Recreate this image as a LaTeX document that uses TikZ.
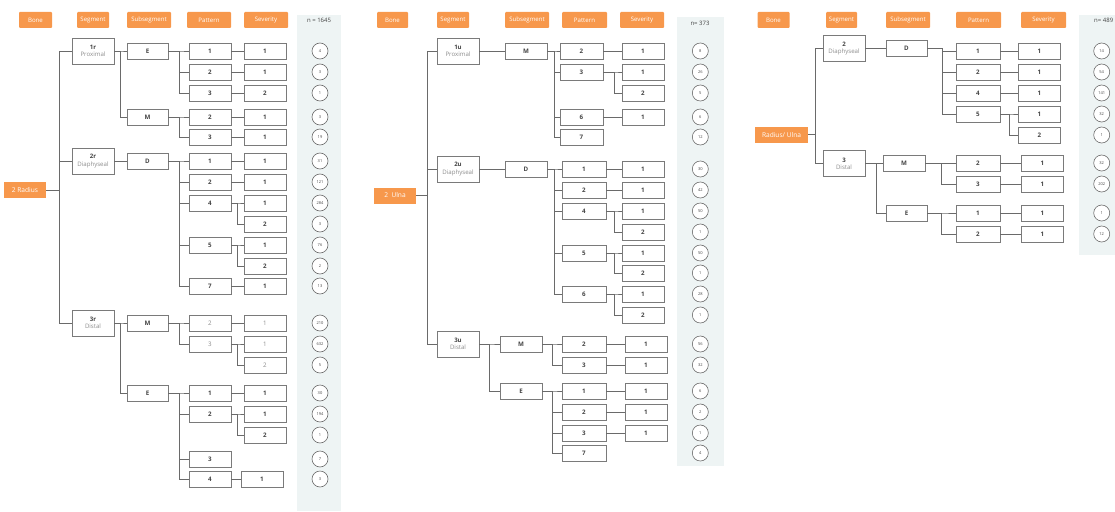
\documentclass[tikz,border=0pt]{standalone}
\usepackage{fontspec}
\setmainfont{Open Sans}
\definecolor{org}{HTML}{F7984C}
\definecolor{pan}{HTML}{EEF4F4}
\definecolor{brd}{HTML}{7A7A7A}
\definecolor{lin}{HTML}{6A6A6A}
\definecolor{txt}{HTML}{444444}
\definecolor{lt}{HTML}{8C8C8C}
\begin{document}
\begin{tikzpicture}[x=1pt,y=-1pt,
  hdr/.style={fill=org,text=white,minimum height=16pt,inner sep=0pt,font=\fontsize{6.1}{6.5}\selectfont,rounded corners=1pt},
  bonebox/.style={fill=org,text=white,minimum height=16pt,inner sep=0pt,font=\fontsize{6.6}{7}\selectfont},
  segbox/.style={draw=brd,fill=white,line width=0.6pt,minimum width=42pt,minimum height=26pt,inner sep=0pt,align=center,font=\fontsize{6.1}{7.6}\selectfont,text=txt},
  pbox/.style={draw=brd,fill=white,line width=0.6pt,minimum width=42pt,minimum height=16pt,inner sep=0pt,font=\fontsize{6.2}{6.2}\selectfont\bfseries,text=txt},
  lbox/.style={pbox,font=\fontsize{6.2}{6.2}\selectfont,text=lt},
  cnt/.style={circle,draw=lin,fill=white,line width=0.6pt,minimum size=16pt,inner sep=0pt,font=\fontsize{4}{4}\selectfont,text=txt},
  con/.style={draw=lin,line width=0.6pt},
  ntxt/.style={font=\fontsize{6}{6}\selectfont,text=txt,inner sep=0pt}
]
\useasboundingbox (0,0) rectangle (1115,511);
% ---------------- panels
\fill[pan] (297,15) rectangle (341,511);
\fill[pan] (677,17) rectangle (724,466);
\fill[pan] (1079,15) rectangle (1125,255);
\node[ntxt] (an) at (319,20) {n = 1645};
\node[ntxt] (bn) at (700,23) {n= 373};
\node[ntxt,anchor=west] (cn) at (1094,20) {n= 489};

% ================= LEFT: Radius
\node[hdr,minimum width=33pt] (aH1) at (35.5,20) {Bone};
\node[hdr,minimum width=32pt] (aH2) at (93,20) {Segment};
\node[hdr,minimum width=44pt] (aH3) at (149,20) {Subsegment};
\node[hdr,minimum width=44pt] (aH4) at (209,20) {Pattern};
\node[hdr,minimum width=44pt] (aH5) at (266,20) {Severity};

\node[bonebox,minimum width=42pt] (aB) at (25,190) {2 Radius};
\node[segbox] (aS1) at (93,51) {\textbf{1r}\\{\color{lt}Proximal}};
\node[segbox] (aS2) at (93,161) {\textbf{2r}\\{\color{lt}Diaphyseal}};
\node[segbox] (aS3) at (93,323) {\textbf{3r}\\{\color{lt}Distal}};
\node[pbox,minimum width=41pt] (aE1) at (147.5,51) {E};
\node[pbox,minimum width=41pt] (aM1) at (147.5,117) {M};
\node[pbox,minimum width=41pt] (aD2) at (147.5,161) {D};
\node[pbox,minimum width=41pt] (aM3) at (147.5,323) {M};
\node[pbox,minimum width=41pt] (aE3) at (147.5,393) {E};

\foreach \i/\y/\t in {1/51/1,2/72/2,3/93/3,4/117/2,5/137/3,6/161/1,7/182/2,8/203/4,10/245/5,12/286/7,16/393/1,17/414/2,19/459/3,20/479/4}
  \node[pbox] (ap\i) at (210,\y) {\t};
\foreach \i/\y/\t in {13/323/2,14/344/3}
  \node[lbox] (ap\i) at (210,\y) {\t};
\foreach \i/\y/\t in {1/51/1,2/72/1,3/93/2,4/117/1,5/137/1,6/161/1,7/182/1,8/203/1,9/224/2,10/245/1,11/266/2,12/286/1,16/393/1,17/414/1,18/435/2}
  \node[pbox] (as\i) at (265,\y) {\t};
\foreach \i/\y/\t in {13/323/1,14/344/1,15/365/2}
  \node[lbox] (as\i) at (265,\y) {\t};
\node[pbox] (as20) at (262,479) {1};
\foreach \y/\n [count=\i] in {51/4,72/3,93/1,117/3,137/19,161/31,182/121,203/284,224/3,245/76,266/2,286/13,323/210,344/632,365/5,393/30,414/194,435/1,459/7,479/3}
  \node[cnt] (ac\i) at (320,\y) {\n};

\foreach \s in {aS1,aS2,aS3} \draw[con] (aB.east) -- ++(13,0) |- (\s.west);
\foreach \s in {aE1,aM1} \draw[con] (aS1.east) -- ++(6,0) |- (\s.west);
\draw[con] (aS2.east) -- (aD2.west);
\foreach \s in {aM3,aE3} \draw[con] (aS3.east) -- ++(6,0) |- (\s.west);
\foreach \i in {1,2,3} \draw[con] (aE1.east) -- ++(11,0) |- (ap\i.west);
\foreach \i in {4,5} \draw[con] (aM1.east) -- ++(11,0) |- (ap\i.west);
\foreach \i in {6,7,8,10,12} \draw[con] (aD2.east) -- ++(11,0) |- (ap\i.west);
\foreach \i in {13,14} \draw[con] (aM3.east) -- ++(11,0) |- (ap\i.west);
\foreach \i in {16,17,19,20} \draw[con] (aE3.east) -- ++(11,0) |- (ap\i.west);
\foreach \i in {1,2,3,4,5,6,7,12,13,16,20} \draw[con] (ap\i.east) -- (as\i.west);
\foreach \p/\s in {8/8,8/9,10/10,10/11,14/14,14/15,17/17,17/18} \draw[con] (ap\p.east) -- ++(6,0) |- (as\s.west);

% ================= MIDDLE: Ulna
\node[hdr,minimum width=31pt] (bH1) at (392.5,20) {Bone};
\node[hdr,minimum width=32pt] (bH2) at (453,20) {Segment};
\node[hdr,minimum width=44pt] (bH3) at (527,20) {Subsegment};
\node[hdr,minimum width=45pt] (bH4) at (584.5,20) {Pattern};
\node[hdr,minimum width=44pt] (bH5) at (642,20) {Severity};

\node[bonebox,minimum width=42pt] (bB) at (395,195.5) {2\ \ Ulna};
\node[segbox] (bS1) at (458,51) {\textbf{1u}\\{\color{lt}Proximal}};
\node[segbox] (bS2) at (458,169) {\textbf{2u}\\{\color{lt}Diaphyseal}};
\node[segbox] (bS3) at (458,344) {\textbf{3u}\\{\color{lt}Distal}};
\node[pbox] (bM1) at (526,51) {M};
\node[pbox] (bD2) at (526,169) {D};
\node[pbox] (bM3) at (521,344) {M};
\node[pbox] (bE3) at (521,391) {E};

\foreach \i/\y/\t in {1/51/2,2/72/3,4/117/6,5/137/7}
  \node[pbox,minimum width=43pt] (bp\i) at (581.5,\y) {\t};
\foreach \i/\y/\t in {6/169/1,7/190/2,8/211/4,10/253/5,12/294/6,14/344/2,15/365/3,16/391/1,17/412/2,18/433/3,19/453/7}
  \node[pbox,minimum width=44pt] (bp\i) at (584,\y) {\t};
\foreach \i/\y/\t in {1/51/1,2/72/1,3/93/2,4/117/1,6/169/1,7/190/1,8/211/1,9/232/2,10/253/1,11/273/2,12/294/1,13/315/2}
  \node[pbox] (bs\i) at (643,\y) {\t};
\foreach \i/\y/\t in {14/344/1,15/365/1,16/391/1,17/412/1,18/433/1}
  \node[pbox] (bs\i) at (646,\y) {\t};
\foreach \y/\n [count=\i] in {51/8,72/26,93/5,117/6,137/12,169/30,190/42,211/50,232/1,253/50,273/1,294/28,315/1,344/56,365/32,391/6,412/2,433/1,453/4}
  \node[cnt] (bc\i) at (700.3,\y) {\n};

\foreach \s in {bS1,bS2,bS3} \draw[con] (bB.east) -- ++(10.7,0) |- (\s.west);
\draw[con] (bS1.east) -- (bM1.west);
\draw[con] (bS2.east) -- (bD2.west);
\foreach \s in {bM3,bE3} \draw[con] (bS3.east) -- ++(10.3,0) |- (\s.west);
\foreach \i in {1,2,4,5} \draw[con] (bM1.east) -- ++(6.7,0) |- (bp\i.west);
\foreach \i in {6,7,8,10,12} \draw[con] (bD2.east) -- ++(6.7,0) |- (bp\i.west);
\foreach \i in {14,15} \draw[con] (bM3.east) -- ++(10.3,0) |- (bp\i.west);
\foreach \i in {16,17,18,19} \draw[con] (bE3.east) -- ++(10.3,0) |- (bp\i.west);
\foreach \i in {1,4,6,7,14,15,16,17,18} \draw[con] (bp\i.east) -- (bs\i.west);
\foreach \s in {2,3} \draw[con] (bp2.east) -- ++(11.3,0) |- (bs\s.west);
\foreach \p/\s in {8/8,8/9,10/10,10/11,12/12,12/13} \draw[con] (bp\p.east) -- ++(8.3,0) |- (bs\s.west);

% ================= RIGHT: Radius/Ulna
\node[hdr,minimum width=32pt] (cH1) at (773.5,20) {Bone};
\node[hdr,minimum width=31pt] (cH2) at (841.5,20) {Segment};
\node[hdr,minimum width=44pt] (cH3) at (908,20) {Subsegment};
\node[hdr,minimum width=45pt] (cH4) at (978.5,20) {Pattern};
\node[hdr,minimum width=45pt] (cH5) at (1043.5,20) {Severity};

\node[bonebox,minimum width=53pt] (cB) at (781.5,134.7) {Radius/ Ulna};
\node[segbox] (cS1) at (844,48.5) {\textbf{2}\\{\color{lt}Diaphyseal}};
\node[segbox] (cS2) at (844,163.7) {\textbf{3}\\{\color{lt}Distal}};
\node[pbox,minimum width=41pt] (cD1) at (906.5,48.5) {D};
\node[pbox] (cM2) at (904,163.5) {M};
\node[pbox,minimum width=41pt] (cE2) at (906.5,213) {E};

\foreach \i/\y/\t in {1/51/1,2/72/2,3/93/4,4/114/5,6/163/2,7/184/3,8/213/1,9/234/2}
  \node[pbox,minimum width=44pt] (cp\i) at (978,\y) {\t};
\foreach \i/\y/\t in {1/51/1,2/72/1,3/93/1,4/114/1,5/135/2}
  \node[pbox] (cs\i) at (1039.5,\y) {\t};
\foreach \i/\y/\t in {6/163/1,7/184/1,8/213/1,9/234/1}
  \node[pbox] (cs\i) at (1042.5,\y) {\t};
\foreach \y/\n [count=\i] in {51/14,72/54,93/141,114/32,135/1,163/32,184/202,213/1,234/12}
  \node[cnt] (cc\i) at (1101.7,\y) {\n};

\foreach \s in {cS1,cS2} \draw[con] (cB.east) -- ++(7.5,0) |- (\s.west);
\draw[con] (cS1.east) -- (cD1.west);
\foreach \s in {cM2,cE2} \draw[con] (cS2.east) -- ++(11,0) |- (\s.west);
\foreach \i in {1,2,3,4} \draw[con] (cD1.east) -- ++(14.7,0) |- (cp\i.west);
\foreach \i in {6,7} \draw[con] (cM2.east) -- ++(16,0) |- (cp\i.west);
\foreach \i in {8,9} \draw[con] (cE2.east) -- ++(14,0) |- (cp\i.west);
\foreach \i in {1,2,3,6,7,8,9} \draw[con] (cp\i.east) -- (cs\i.west);
\foreach \s in {4,5} \draw[con] (cp4.east) -- ++(9,0) |- (cs\s.west);
\end{tikzpicture}
\end{document}
